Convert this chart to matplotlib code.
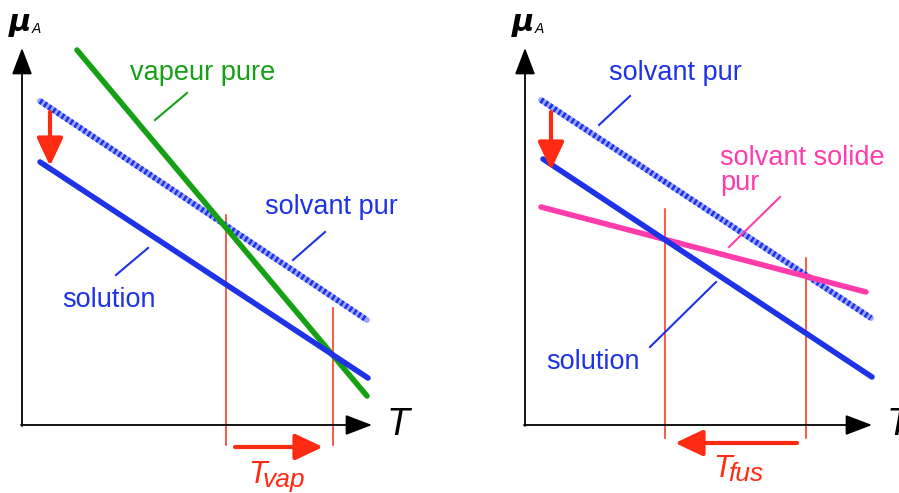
import matplotlib.pyplot as plt

plt.rcParams['font.family'] = ['Liberation Sans', 'DejaVu Sans']

BLUE = '#1e32e6'
LIGHTBLUE = '#9aa6ff'
GREEN = '#16a016'
RED = '#ff2a12'
PINK = '#ff3cac'

# --- left panel (vaporisation): T and mu values of each line ---
vap_T = [55, 345]
vap_mu = [375, 29]
solv_left_T = [18, 345]
solv_left_mu = [324, 105]
sol_left_T = [18, 346]
sol_left_mu = [263, 47]
tvap_marks = [204, 311]          # T of the two vertical red lines
tvap_tops = [210, 117]

# --- right panel (fusion) ---
solv_right_T = [16, 346]
solv_right_mu = [325, 107]
sol_right_T = [18, 347]
sol_right_mu = [266, 48]
solid_T = [16, 341]
solid_mu = [218, 133]
tfus_marks = [140, 281]
tfus_tops = [216, 167]


def draw_axes(ax, x_end, y_end=377):
    # plain arrows for the T and mu axes
    ax.annotate('', xy=(x_end, 0), xytext=(-1, 0),
                arrowprops=dict(arrowstyle='-|>,head_length=1.1,head_width=0.42',
                                color='black', lw=1.3, mutation_scale=15,
                                shrinkA=0, shrinkB=0))
    ax.annotate('', xy=(0, y_end), xytext=(0, -1),
                arrowprops=dict(arrowstyle='-|>,head_length=1.1,head_width=0.42',
                                color='black', lw=1.3, mutation_scale=15,
                                shrinkA=0, shrinkB=0))
    ax.text(-2, 401, r'$\boldsymbol{\mu}$', fontsize=22, ha='center', va='center')
    ax.text(14, 396, 'A', fontsize=10, style='italic', ha='center', va='center')
    ax.text(x_end + 15, 0, 'T', fontsize=27, style='italic', ha='left', va='center')


def hatched(ax, T, mu):
    ax.plot(T, mu, color=LIGHTBLUE, lw=4.2, solid_capstyle='round')
    ax.plot(T, mu, color=BLUE, lw=4.2, dashes=(0.45, 0.45), dash_capstyle='butt')


def red_arrow(ax, start, end):
    ax.annotate('', xy=end, xytext=start,
                arrowprops=dict(arrowstyle='-|>,head_length=0.85,head_width=0.4',
                                color=RED, lw=3, mutation_scale=20,
                                shrinkA=0, shrinkB=0))


fig = plt.figure(figsize=(8.99, 4.93), dpi=100)
axl = fig.add_axes([0, 0, 450 / 899, 1])
axr = fig.add_axes([450 / 899, 0, 449 / 899, 1])
axl.set_xlim(-22, 428)
axl.set_ylim(-68, 425)
axr.set_xlim(-75, 374)
axr.set_ylim(-68, 425)
for ax in (axl, axr):
    ax.axis('off')

# left panel
draw_axes(axl, 350)
for t, top in zip(tvap_marks, tvap_tops):
    axl.plot([t, t], [-20, top], color=RED, lw=1.1)
hatched(axl, solv_left_T, solv_left_mu)
axl.plot(vap_T, vap_mu, color=GREEN, lw=4, solid_capstyle='round')
axl.plot(sol_left_T, sol_left_mu, color=BLUE, lw=4, solid_capstyle='round')
red_arrow(axl, (28, 313), (28, 259))
red_arrow(axl, (213, -22), (301, -22))
axl.text(181, 352, 'vapeur pure', color=GREEN, fontsize=19.5, ha='center', va='center')
axl.plot([133, 165], [305, 332], color=GREEN, lw=1.5)
axl.text(309, 218, 'solvant pur', color=BLUE, fontsize=19.5, ha='center', va='center')
axl.plot([271, 303], [165, 193], color=BLUE, lw=1.5)
axl.text(87, 125, 'solution', color=BLUE, fontsize=19.5, ha='center', va='center')
axl.plot([94, 126], [150, 177], color=BLUE, lw=1.5)
axl.text(226, -50, 'T', color=RED, fontsize=22, style='italic', ha='left', va='center')
axl.text(241, -55, 'vap', color=RED, fontsize=19, style='italic', ha='left', va='center')

# right panel
draw_axes(axr, 347)
for t, top in zip(tfus_marks, tfus_tops):
    axr.plot([t, t], [-13, top], color=RED, lw=1.1)
hatched(axr, solv_right_T, solv_right_mu)
axr.plot(solid_T, solid_mu, color=PINK, lw=4, solid_capstyle='round')
axr.plot(sol_right_T, sol_right_mu, color=BLUE, lw=4, solid_capstyle='round')
red_arrow(axr, (26, 313), (26, 255))
red_arrow(axr, (272, -18), (150, -18))
axr.text(150, 352, 'solvant pur', color=BLUE, fontsize=19.5, ha='center', va='center')
axr.plot([74, 105], [300, 329], color=BLUE, lw=1.5)
axr.text(195, 267, 'solvant solide', color=PINK, fontsize=19.5, ha='left', va='center')
axr.text(195, 242, 'pur', color=PINK, fontsize=19.5, ha='left', va='center')
axr.plot([204, 255], [178, 228], color=PINK, lw=1.5)
axr.text(68, 63, 'solution', color=BLUE, fontsize=19.5, ha='center', va='center')
axr.plot([125, 191], [78, 143], color=BLUE, lw=1.5)
axr.text(188, -44, 'T', color=RED, fontsize=22, style='italic', ha='left', va='center')
axr.text(203, -49, 'fus', color=RED, fontsize=19, style='italic', ha='left', va='center')

fig.savefig('out.png', dpi=100)
